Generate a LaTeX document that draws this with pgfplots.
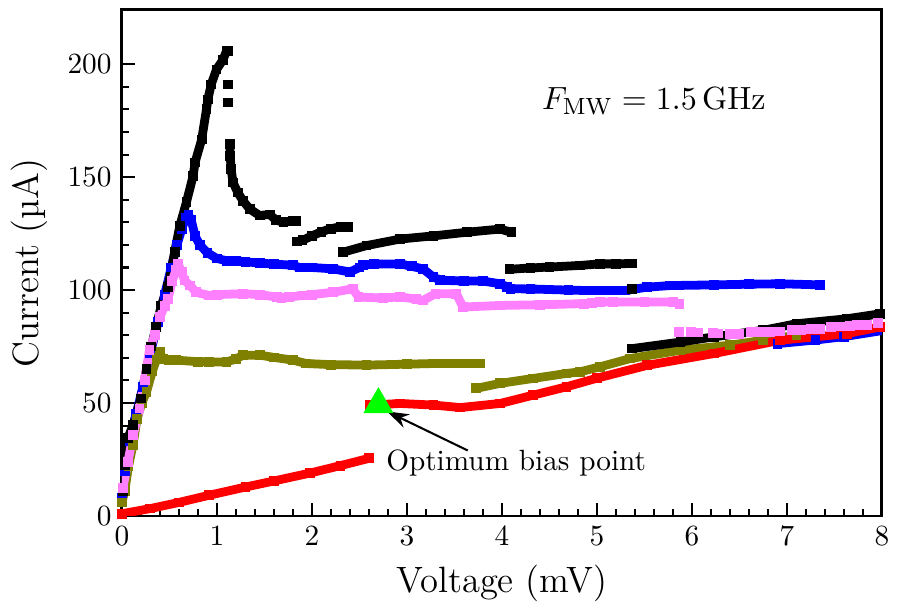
\documentclass[border=0pt]{standalone}
\usepackage{pgfplots}
\pgfplotsset{compat=1.18}
\usetikzlibrary{arrows.meta}
\definecolor{mypink}{RGB}{255,128,255}
\definecolor{myolive}{RGB}{128,128,0}
\definecolor{myblue}{RGB}{0,0,255}
\definecolor{myred}{RGB}{255,0,0}
\definecolor{mygreen}{RGB}{0,255,0}
\pgfplotsset{ser/.style={mark=square*, mark size=1.5pt, line width=3pt, line join=round, mark options={line width=0pt, solid}, unbounded coords=jump}}
\begin{document}
\begin{tikzpicture}
\begin{axis}[
  at={(0,0)}, anchor=south west,
  scale only axis, width=259.4pt, height=172.7pt,
  xmin=0, xmax=8, ymin=0, ymax=224,
  xtick={0,1,...,8}, ytick={0,50,100,150,200},
  minor x tick num=4, minor y tick num=4,
  tick align=inside, xtick pos=left, ytick pos=left,
  major tick length=4.5pt, minor tick length=2.3pt,
  every tick/.style={line width=0.7pt, black},
  axis line style={line width=1pt},
  xlabel={\fontsize{12.5}{15}\selectfont Voltage (mV)},
  ylabel={\fontsize{12.5}{15}\selectfont Current (µA)},
]
% blue lower branch
\addplot[ser, color=myblue] coordinates {(6.9,76.3)(7.3,77.9)(7.6,79.4)(8.05,82.4)};
% blue
\addplot[ser, color=myblue] coordinates {
(0.0,8)(0.03,20)(0.08,33)(0.15,45)(0.22,57)(0.3,72)(0.38,86)(0.45,98)(0.52,110)(0.58,120)(0.63,127)(0.67,132)(0.7,133.5)(0.73,131)(0.77,124)(0.82,120)(0.9,116.5)(1.0,114)(1.1,113)(1.2,113)(1.3,112.5)(1.45,112)(1.6,111.5)(1.8,111)(1.87,110)(2.0,110)(2.22,109.4)(2.4,108)(2.5,110)(2.54,111)(2.65,111.5)(2.93,111.6)(3.05,110.5)(3.17,109.4)(3.28,105.7)(3.35,104.5)(3.45,104.2)(3.6,104)(3.8,104)(3.98,102.8)(4.05,101.5)(4.09,100.6)(4.3,100.5)(4.7,100)(4.89,99.8)(5.3,99.8)(5.53,101.3)(5.77,102)(6.23,102.3)(6.6,102.6)(6.93,102.8)(7.35,102.3)};
% olive
\addplot[ser, color=myolive] coordinates {
(0.0,6)(0.03,11)(0.07,22)(0.117,31.5)(0.16,43)(0.21,50)(0.26,55)(0.32,64)(0.37,70)(0.4,72.6)(0.43,69.5)(0.5,69)(0.57,69)(0.8,68.3)(0.92,68.2)(1.1,68.2)(1.2,69.5)(1.275,71.2)(1.45,71.2)(1.6,70.2)(1.8,69)(1.94,67.5)(2.2,67)(2.575,66.8)(3.0,67.2)(3.28,67.5)(3.77,67.5)};
\addplot[ser, color=myolive] coordinates {
(3.73,56.5)(3.98,58.7)(4.33,60.9)(4.68,63.1)(4.82,63.8)(5.03,66)(5.35,69.7)(5.88,73.4)(6.4,75.6)(6.75,77.8)(7.1,80)};
% black
\addplot[ser, color=black] coordinates {
(0.01,11)(0.03,22.6)(0.063,34.4)(0.117,40.3)(0.2,52)(0.26,65)(0.31,75)(0.36,83.7)(0.415,93.2)(0.485,101.3)(0.555,116.8)(0.61,128.5)(0.68,139)(0.75,150.6)(0.77,156.5)(0.84,166.7)(0.89,180)(0.905,184.4)(0.94,191)(0.995,197.6)(1.065,202)(1.1,205.7)(1.12,206)};
\addplot[ser, only marks, color=black] coordinates {(1.117,191)(1.117,183)};
\addplot[ser, color=black] coordinates {
(1.135,164.5)(1.14,159.4)(1.15,153.5)(1.17,147.6)(1.22,143.2)(1.275,139.5)(1.345,135.9)(1.45,133)(1.556,133.5)(1.62,131)(1.7,130)(1.8,130.7)(1.83,130.5)};
\addplot[ser, color=black] coordinates {
(1.84,121.5)(1.9,122)(2.0,124)(2.1,125.8)(2.2,127.2)(2.3,128)(2.38,128)};
\addplot[ser, color=black] coordinates {
(2.33,116.8)(2.575,119.7)(2.93,122.6)(3.28,124)(3.63,125.6)(3.98,127)(4.1,125.6)};
\addplot[ser, color=black] coordinates {
(4.08,109.2)(4.3,109.8)(4.5,110.2)(4.82,110.9)(5.03,111.6)(5.2,111.6)(5.37,111.8)};
\addplot[ser, only marks, color=black] coordinates {(5.37,100.6)};
\addplot[ser, color=black] coordinates {
(5.37,74.1)(5.88,77)(6.23,79.3)(6.75,82.2)(7.1,85.1)(7.63,87.3)(7.98,89.5)(8.05,89.8)};
% red
\addplot[ser, color=myred] coordinates {
(0.0,1)(0.3,3.3)(0.6,6)(0.92,9.2)(1.3,12.8)(1.6,15.5)(1.98,19)(2.3,22.3)(2.6,25.5)};
\addplot[ser, color=myred] coordinates {
(2.61,49.1)(2.93,49.8)(3.28,49.1)(3.56,48)(3.98,49.8)(4.33,53.5)(4.68,57.2)(5.0,61)(5.53,66.7)(6.23,71.9)(6.93,77.8)(7.63,80.7)(7.98,83.7)(8.05,84)};
% pink
\addplot[ser, color=mypink] coordinates {
(0.01,12.4)(0.063,24)(0.12,36)(0.186,47.6)(0.24,60)(0.29,73.4)(0.345,80)(0.4,88)(0.45,93)(0.485,96)(0.53,104)(0.57,109)(0.59,111.6)(0.63,108)(0.66,104.2)(0.72,102)(0.78,99)(0.92,97.6)(1.0,98)(1.275,98.4)(1.45,98)(1.63,96.9)(1.68,96.5)(1.72,nan)
(1.76,97)(1.91,97.6)(2.0,98)(2.22,99)(2.43,100.6)(2.49,96.9)(2.75,96.5)(2.93,97)(3.1,96)(3.17,95.4)(3.3,98.4)(3.52,98.4)(3.59,92.5)(3.98,93.2)(4.4,93.5)(4.45,nan)
(4.5,93.6)(4.86,94)(4.9,nan)(4.95,94.3)(5.03,94.7)(5.17,94.7)(5.5,94.7)(5.8,94.7)(5.87,94)};
\addplot[ser, only marks, color=mypink] coordinates {
(5.86,81.5)(5.99,81.3)(6.07,81.2)(6.22,81)(6.28,80.8)(6.4,80.7)(6.5,80.6)(6.62,81.3)(6.72,81.5)(6.82,81.6)(6.93,81.7)(7.05,82.2)(7.15,82.5)(7.25,82.8)(7.35,82.9)(7.46,83.6)(7.56,83.9)(7.66,84.2)(7.74,84.5)(7.84,84.7)(7.96,85.6)(8.05,86)};
% optimum point
\addplot[only marks, mark=triangle*, mark size=5.5pt, color=mygreen, mark options={draw=mygreen, fill=mygreen}] coordinates {(2.7,49.4)};
\draw[-{Stealth[length=7.5pt,width=5pt]}, line width=0.7pt] (axis cs:3.64,29) -- (axis cs:2.79,46.3);
\node at (axis cs:4.15,23.4) {Optimum bias point};
\node at (axis cs:5.6,183.5) {\fontsize{11}{13}\selectfont $F_{\mathrm{MW}} = 1.5\,\mathrm{GHz}$};
\end{axis}
\pgfresetboundingbox
\path (-41.6pt,-33.1pt) rectangle (265.9pt,176.1pt);
\end{tikzpicture}
\end{document}
